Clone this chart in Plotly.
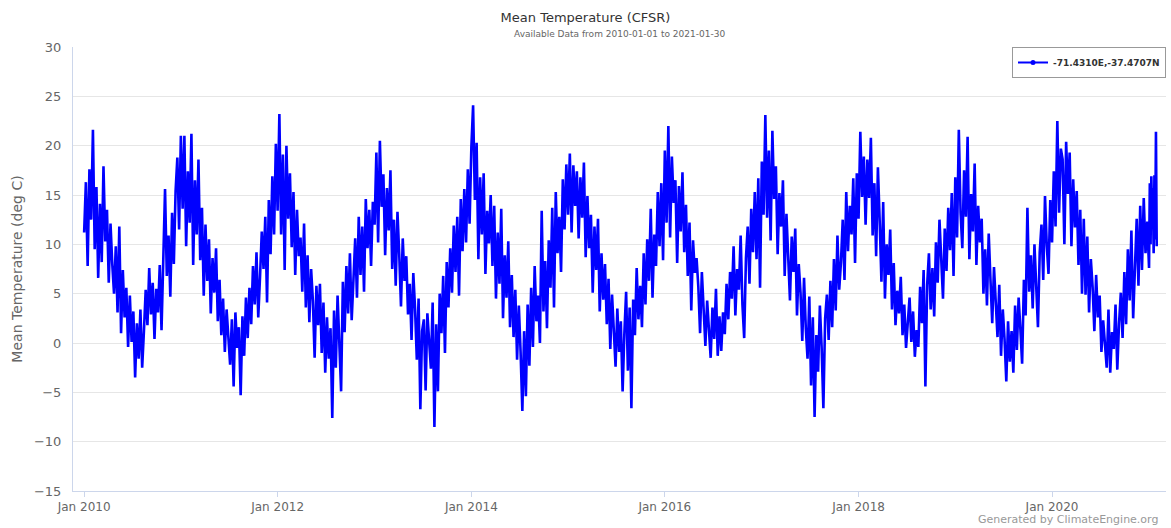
import pandas as pd
import plotly.graph_objects as go

# Mean temperature (deg C) at -71.4310E,-37.4707N, one list per calendar year,
# values evenly spaced through the year they belong to
t2010 = [11.2, 16.3, 7.8, 17.6, 12.5,
         21.6, 9.5, 15.8, 6.6,
         14.1, 8.2, 17.9, 10.3, 13.5,
         6.1, 12.1, 8.0, 5.0,
         9.8, 3.1, 11.8, 1.0, 7.4,
         2.6, 5.6, -0.4, 4.8,
         0.1, 3.2, -3.5, 2.0, -1.6,
         3.4, -2.5, 1.2, 5.4, 1.8,
         7.6, 2.9, 6.1, 0.4,
         5.5, 3.1, 7.9, 1.3, 9.4,
         15.6, 6.8, 10.9, 4.7, 13.2,
         8.0, 15.4, 18.8, 11.5]
t2011 = [21.0, 13.6, 21.0, 9.8, 17.4,
         12.2, 21.2, 7.9, 16.5,
         11.0, 18.6, 8.4, 13.7, 4.8,
         12.0, 6.3, 10.5, 3.0,
         8.6, 5.1, 9.6, 2.2, 6.4,
         0.8, 4.5, -0.9, 3.4,
         1.0, -2.2, 2.4, -4.4, 3.1,
         -0.5, 1.6, -5.3, 2.7, -1.3,
         4.6, 0.5, 5.6, 1.9,
         7.8, 3.9, 9.2, 2.6, 6.7,
         11.3, 7.5, 12.8, 4.1, 14.5,
         9.0, 16.9, 11.0, 20.2]
t2012 = [13.4, 23.2, 11.0, 19.1, 7.4,
         20.0, 12.6, 17.2, 9.7,
         15.3, 6.9, 13.5, 8.8, 10.7,
         5.2, 12.1, 3.6, 8.9,
         2.1, 7.5, 4.3, -1.5, 5.8,
         1.8, 6.0, -1.0, 4.1,
         -3.0, 2.6, -1.6, 1.5, -7.6,
         3.3, -2.5, 4.8, 0.6, -4.9,
         6.2, 1.1, 7.8, 3.0,
         9.1, 2.3, 6.4, 10.6, 4.6,
         12.8, 6.9, 11.8, 5.2, 14.6,
         9.6, 13.5, 7.8, 14.3]
t2013 = [12.0, 19.3, 10.2, 20.5, 13.8,
         17.1, 8.9, 15.7, 11.4,
         17.5, 7.5, 12.5, 5.8, 13.3,
         9.0, 3.7, 10.6, 6.3,
         8.8, 2.9, 6.0, 0.3, 7.1,
         3.5, -1.7, 4.5, -6.7,
         1.2, 2.4, -4.8, 3.0, 0.1,
         -2.6, 4.1, -8.5, 1.9, -4.9,
         5.0, 1.0, 6.8, -1.0,
         8.2, 3.6, 9.6, 5.1, 11.9,
         7.2, 12.8, 4.8, 14.6, 9.3,
         15.6, 10.2, 17.6, 12.1]
t2014 = [19.8, 24.1, 14.5, 20.3, 8.5,
         16.8, 11.0, 17.2, 7.0,
         13.4, 10.1, 15.0, 7.8, 13.9,
         4.5, 11.2, 6.0, 13.6,
         2.5, 8.9, 4.6, 10.3, 1.6,
         6.9, 0.6, 5.4, -1.7,
         3.8, -0.9, -6.9, 1.2, -5.4,
         3.9, -2.3, 5.6, -0.4, 7.8,
         2.2, 4.8, 0.0, 13.4,
         3.2, 8.3, 1.5, 10.4, 5.6,
         13.7, 3.6, 15.3, 9.1, 12.8,
         7.2, 16.6, 11.5, 18.1]
t2015 = [13.0, 19.2, 11.2, 18.0, 13.9,
         17.4, 10.6, 16.8, 12.7,
         18.3, 8.7, 14.9, 9.6, 13.0,
         5.1, 11.8, 7.4, 12.6,
         3.2, 9.1, 4.4, 8.0, 1.9,
         6.5, -0.6, 4.9, 1.5,
         -2.4, 3.5, -0.9, 2.2, -4.9,
         1.0, 5.2, -2.8, 3.6, -6.6,
         4.4, 0.8, 7.6, 2.4,
         5.8, 1.6, 9.1, 3.9, 10.5,
         6.3, 13.6, 4.6, 11.0, 7.8,
         15.3, 9.8, 16.2, 8.4]
t2016 = [19.5, 12.2, 22.0, 10.7, 18.9,
         14.2, 16.5, 8.1, 15.9,
         11.3, 17.3, 9.2, 14.0, 6.8,
         12.2, 3.3, 10.4, 7.1,
         8.6, 5.7, 1.0, 7.2, 3.9,
         -0.3, 4.3, 1.2, -1.5,
         3.6, 0.4, 5.5, -1.3, 2.7,
         -0.8, 3.1, 0.9, 6.0, 2.4,
         7.2, 4.5, 9.8, 2.8,
         7.5, 5.4, 10.9, 3.9, 0.5,
         8.6, 11.8, 6.0, 13.6, 9.2,
         15.3, 8.5, 16.7, 5.6]
t2017 = [18.4, 13.0, 23.1, 12.7, 19.5,
         10.4, 21.5, 14.6, 17.9,
         9.0, 15.2, 11.8, 16.5, 6.8,
         13.1, 9.4, 4.3, 10.8,
         7.2, 11.6, 2.8, 8.0, 5.1,
         0.2, 6.6, 1.5, -1.6,
         4.7, -4.3, 2.6, -7.5, 0.8,
         -2.9, 3.8, -0.4, -6.6, 2.5,
         4.9, 0.3, 6.3, 1.6,
         8.5, 3.3, 10.9, 5.4, 8.2,
         12.5, 6.4, 15.3, 9.3, 13.9,
         11.0, 16.7, 8.1, 17.2]
t2018 = [12.6, 21.4, 14.8, 18.9, 12.0,
         18.6, 14.7, 20.8, 10.9,
         16.2, 8.8, 17.8, 12.4, 6.2,
         14.3, 4.5, 10.0, 6.9,
         11.5, 3.4, 8.1, 1.8, 5.3,
         3.0, 6.7, 0.8, 3.9,
         -0.5, 2.1, 4.6, 0.1, 3.2,
         -1.4, 1.3, -0.4, 5.7, 2.0,
         7.4, -4.4, 5.9, 9.1,
         3.4, 7.6, 2.7, 10.2, 6.1,
         12.5, 8.2, 4.5, 11.6, 7.3,
         13.7, 9.4, 15.2, 6.8]
t2019 = [16.8, 10.7, 21.6, 13.2, 9.6,
         17.5, 12.8, 20.9, 8.5,
         15.1, 11.3, 18.2, 7.9, 13.9,
         10.2, 12.6, 5.0, 9.5,
         3.8, 11.1, 6.4, 2.0, 7.7,
         4.2, 0.6, 5.9, -1.3,
         3.4, 0.4, -3.9, 2.2, -1.9,
         1.2, -3.0, 3.8, -0.7, 4.6,
         1.4, -2.1, 6.4, 2.8,
         13.7, 5.2, 8.9, 3.5, 10.0,
         5.8, 1.6, 9.2, 12.0, 6.4,
         14.9, 9.9, 7.0, 14.5]
t2020 = [10.2, 17.4, 11.8, 22.5, 13.2,
         19.7, 18.6, 10.0, 20.4,
         15.1, 19.3, 9.8, 16.6, 11.7,
         15.4, 7.9, 13.5, 5.0,
         12.6, 4.9, 10.8, 3.1, 8.5,
         5.7, 1.2, 6.9, 2.6,
         4.8, -0.9, 2.3, 0.2, -2.5,
         3.4, -3.0, 1.1, -0.6, 3.9,
         -2.7, 2.0, 5.1, 0.5,
         7.2, 1.9, 9.5, 4.3, 11.4,
         2.5, 8.6, 12.6, 5.8, 13.9,
         7.4, 14.7, 9.1, 12.3]
t2021 = [7.6, 16.2, 10.0, 16.9, 12.8, 15.7, 9.1, 17.0, 10.5, 21.4, 9.8]

years = {2010: t2010, 2011: t2011, 2012: t2012, 2013: t2013, 2014: t2014, 2015: t2015,
         2016: t2016, 2017: t2017, 2018: t2018, 2019: t2019, 2020: t2020}
last_date = "2021-01-30"

series_name = "-71.4310E,-37.4707N"
x_tick_labels = ["Jan 2010", "Jan 2012", "Jan 2014", "Jan 2016", "Jan 2018", "Jan 2020"]
x_tick_dates = ["2010-01-01", "2012-01-01", "2014-01-01", "2016-01-01", "2018-01-01", "2020-01-01"]

# spread each year's values evenly across that year
dates, temps = [], []
for yr, vals in years.items():
    d = pd.date_range(f"{yr}-01-01", f"{yr + 1}-01-01", periods=len(vals) + 1)[:-1]
    dates.extend(d)
    temps.extend(vals)
dates.extend(pd.date_range("2021-01-01", last_date, periods=len(t2021)))
temps.extend(t2021)

FONT = "DejaVu Sans"
LINE_BLUE = "#0000ff"

fig = go.Figure()
fig.add_trace(go.Scatter(
    x=dates, y=temps, mode="lines", name=series_name,
    line=dict(color=LINE_BLUE, width=2.6), showlegend=False,
))
# legend entry with the line-and-dot symbol
fig.add_trace(go.Scatter(
    x=[None], y=[None], mode="lines+markers", name=series_name,
    line=dict(color=LINE_BLUE, width=2), marker=dict(color=LINE_BLUE, size=5),
))

fig.update_layout(
    width=1171, height=528,
    margin=dict(l=73, r=5, t=47, b=37),
    paper_bgcolor="white", plot_bgcolor="white",
    font=dict(family=FONT, color="#666666"),
    title=dict(
        text="Mean Temperature (CFSR)", x=0.5, xanchor="center",
        y=1 - 17 / 528, yanchor="middle",
        font=dict(family=FONT, size=13, color="#333333"),
    ),
    legend=dict(
        x=1, xanchor="right", y=1, yanchor="top",
        bgcolor="white", bordercolor="#999999", borderwidth=1,
        font=dict(family=FONT, size=9, color="#333333", weight="bold"),
        itemwidth=30, tracegroupgap=0,
    ),
    annotations=[
        dict(text="Available Data from 2010-01-01 to 2021-01-30",
             xref="paper", yref="paper", x=0.5, y=1 + 13 / 444,
             xanchor="center", yanchor="middle", showarrow=False,
             font=dict(family=FONT, size=9, color="#666666")),
        dict(text="Generated by ClimateEngine.org",
             xref="paper", yref="paper", x=(1160 - 73) / 1093, y=-(519 - 491) / 444,
             xanchor="right", yanchor="middle", showarrow=False,
             font=dict(family=FONT, size=11, color="#999999")),
    ],
)

fig.update_xaxes(
    range=["2009-11-20", "2021-03-06"],
    tickvals=x_tick_dates, ticktext=x_tick_labels,
    showgrid=False, zeroline=False,
    showline=True, linecolor="#ccd6eb", linewidth=1,
    ticks="outside", ticklen=5, tickcolor="#ccd6eb",
    tickfont=dict(family=FONT, size=12, color="#666666"),
)
fig.update_yaxes(
    range=[-15, 30], dtick=5, tick0=0,
    showgrid=True, gridcolor="#e6e6e6", gridwidth=1, zeroline=False,
    showline=True, linecolor="#ccd6eb", linewidth=1,
    ticks="", ticklabelstandoff=8,
    tickfont=dict(family=FONT, size=13, color="#666666"),
    title=dict(text="Mean Temperature (deg C)", standoff=8,
               font=dict(family=FONT, size=14, color="#666666")),
)

fig.write_html("out.html")
